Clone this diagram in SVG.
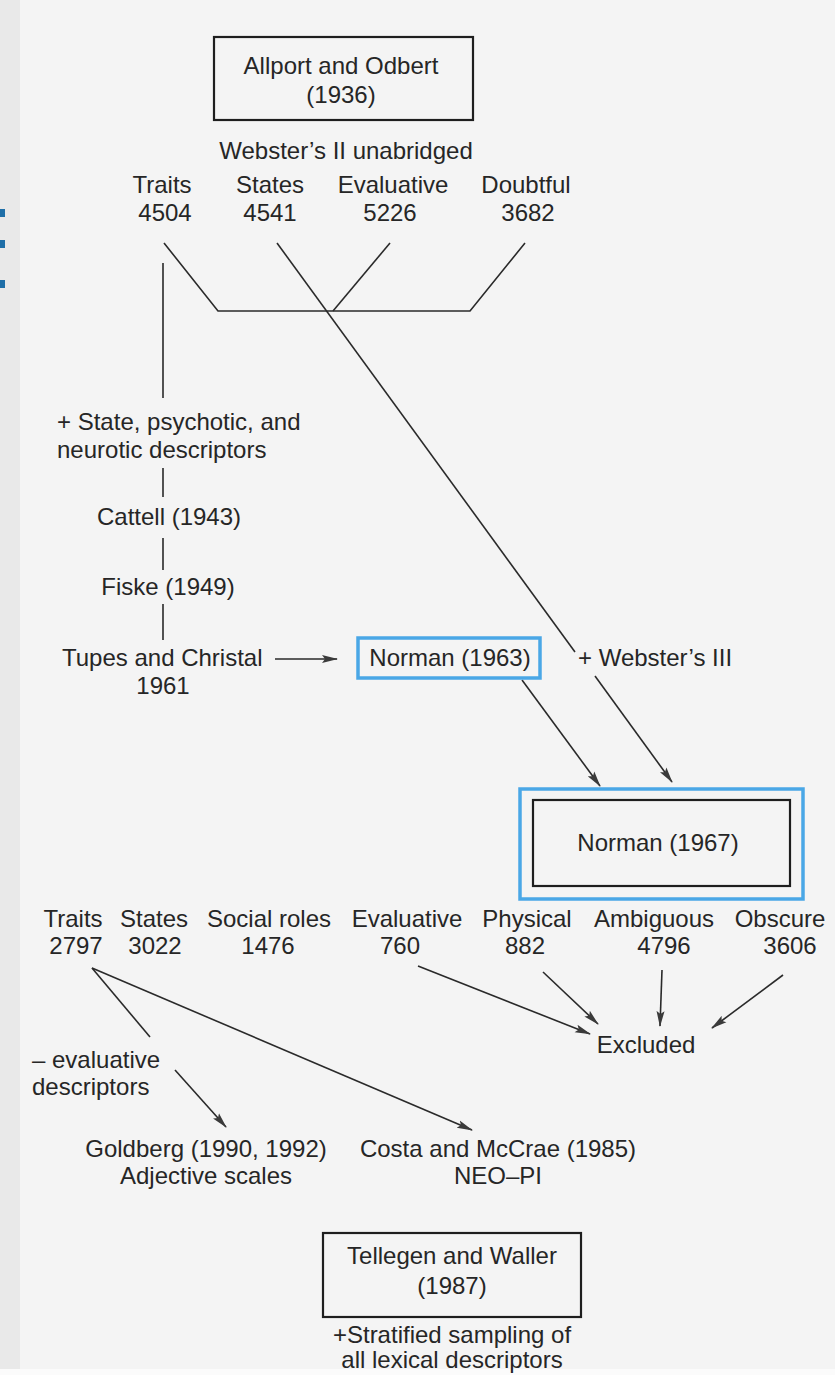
<svg xmlns="http://www.w3.org/2000/svg" width="835" height="1375" viewBox="0 0 835 1375">
<style>
text{font-family:"Liberation Sans",Arial,sans-serif;font-size:24px;fill:#262626}
.m{text-anchor:middle}
.ln{stroke:#2a2a2a;stroke-width:1.6;fill:none}
.box{fill:none;stroke:#1e1e1e;stroke-width:2.2}
.hl{fill:none;stroke:#4aa7e6;stroke-width:3.5}
</style>
<defs>
<marker id="ah" viewBox="0 0 16 10" refX="15" refY="5" markerWidth="16" markerHeight="10" markerUnits="userSpaceOnUse" orient="auto">
<path d="M0,1 L16,5 L0,9 L3,5 Z" fill="#3a3a3a"/>
</marker>
</defs>
<rect x="0" y="0" width="835" height="1375" fill="#f4f4f4"/>
<rect x="0" y="0" width="20" height="1375" fill="#e9e9e9"/>
<rect x="0" y="1369" width="835" height="6" fill="#fbfbfb"/>
<rect x="0" y="209" width="5" height="8" fill="#1f6fa8"/>
<rect x="0" y="240" width="5" height="8" fill="#1f6fa8"/>
<rect x="0" y="280" width="5" height="8" fill="#1f6fa8"/>

<g id="connectors">
<path class="ln" d="M164,243 L218,311 L470,311 L525,243"/>
<path class="ln" d="M390,243 L333,311"/>
<path class="ln" d="M277,243 L575,652"/>
<path class="ln" d="M595,676 L672,782" marker-end="url(#ah)"/>
<path class="ln" d="M163,263 V398 M163,468 V497 M163,538 V570 M163,604 V640"/>
<path class="ln" d="M275,659 L337,659" marker-end="url(#ah)"/>
<path class="ln" d="M522,680 L600,786" marker-end="url(#ah)"/>
<path class="ln" d="M418,966 L590,1034" marker-end="url(#ah)"/>
<path class="ln" d="M543,972 L598,1024" marker-end="url(#ah)"/>
<path class="ln" d="M662,970 L660,1026" marker-end="url(#ah)"/>
<path class="ln" d="M783,975 L712,1028" marker-end="url(#ah)"/>
<path class="ln" d="M92,968 L150,1037"/>
<path class="ln" d="M92,968 L472,1130" marker-end="url(#ah)"/>
<path class="ln" d="M175,1070 L226,1127" marker-end="url(#ah)"/>
</g>

<g id="allport">
<rect class="box" x="214" y="37" width="259" height="83"/>
<text class="m" x="341" y="74">Allport and Odbert</text>
<text class="m" x="341" y="103">(1936)</text>
</g>
<g id="webster2"><text class="m" x="346" y="159">Webster’s II unabridged</text></g>
<g id="traits1"><text class="m" x="162" y="193">Traits</text><text class="m" x="165" y="221">4504</text></g>
<g id="states1"><text class="m" x="270" y="193">States</text><text class="m" x="270" y="221">4541</text></g>
<g id="eval1"><text class="m" x="393" y="193">Evaluative</text><text class="m" x="390" y="221">5226</text></g>
<g id="doubt1"><text class="m" x="526" y="193">Doubtful</text><text class="m" x="528" y="221">3682</text></g>

<g id="state-desc"><text x="57" y="430">+ State, psychotic, and</text><text x="57" y="458">neurotic descriptors</text></g>
<g id="cattell"><text class="m" x="169" y="525">Cattell (1943)</text></g>
<g id="fiske"><text class="m" x="168" y="595">Fiske (1949)</text></g>
<g id="tupes"><text x="62" y="666">Tupes and Christal</text><text class="m" x="163" y="694">1961</text></g>
<g id="norman1963"><rect class="hl" x="358" y="638" width="182" height="40"/><text class="m" x="450" y="666">Norman (1963)</text></g>
<g id="webster3"><text x="578" y="666">+ Webster’s III</text></g>
<g id="norman1967"><rect class="hl" x="520" y="789" width="283" height="110"/><rect class="box" x="533" y="800" width="257" height="86"/><text class="m" x="658" y="851">Norman (1967)</text></g>

<g id="traits2"><text class="m" x="73" y="927">Traits</text><text class="m" x="76" y="954">2797</text></g>
<g id="states2"><text class="m" x="154" y="927">States</text><text class="m" x="155" y="954">3022</text></g>
<g id="social"><text class="m" x="269" y="927">Social roles</text><text class="m" x="268" y="954">1476</text></g>
<g id="eval2"><text class="m" x="407" y="927">Evaluative</text><text class="m" x="400" y="954">760</text></g>
<g id="physical"><text class="m" x="527" y="927">Physical</text><text class="m" x="525" y="954">882</text></g>
<g id="ambiguous"><text class="m" x="654" y="927">Ambiguous</text><text class="m" x="664" y="954">4796</text></g>
<g id="obscure"><text class="m" x="780" y="927">Obscure</text><text class="m" x="790" y="954">3606</text></g>
<g id="excluded"><text class="m" x="646" y="1053">Excluded</text></g>
<g id="evaldesc"><text x="32" y="1068">– evaluative</text><text x="32" y="1095">descriptors</text></g>
<g id="goldberg"><text class="m" x="206" y="1157">Goldberg (1990, 1992)</text><text class="m" x="206" y="1184">Adjective scales</text></g>
<g id="costa"><text class="m" x="498" y="1157">Costa and McCrae (1985)</text><text class="m" x="498" y="1184">NEO–PI</text></g>
<g id="tellegen"><rect class="box" x="323" y="1233" width="258" height="84"/><text class="m" x="452" y="1264">Tellegen and Waller</text><text class="m" x="452" y="1294">(1987)</text></g>
<g id="stratified"><text class="m" x="452" y="1343">+Stratified sampling of</text><text class="m" x="452" y="1368">all lexical descriptors</text></g>
</svg>
